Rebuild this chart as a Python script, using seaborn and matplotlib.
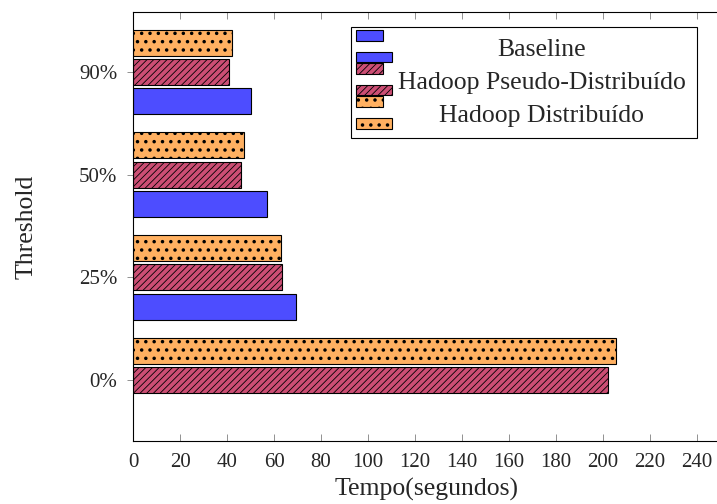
import numpy as np
import pandas as pd
import matplotlib
matplotlib.use("Agg")
import matplotlib.pyplot as plt
import matplotlib.transforms as mtransforms
from matplotlib.patches import Patch, Rectangle
from matplotlib.legend_handler import HandlerBase
import seaborn as sns

# values (seconds)
thresholds = ["0%", "25%", "50%", "90%"]
baseline = [np.nan, 69.5, 57, 50]
pseudo = [202, 63.5, 46, 41]
distribuido = [205.7, 63, 47, 42]

series_names = ["Baseline", "Hadoop Pseudo-Distribuído", "Hadoop Distribuído"]
colors = {"Baseline": "#4d4dff",
          "Hadoop Pseudo-Distribuído": "#cc4e74",
          "Hadoop Distribuído": "#ffb061"}
hatches = {"Baseline": "", "Hadoop Pseudo-Distribuído": "/////", "Hadoop Distribuído": ".."}
hatch_lw = {"Baseline": 0.6, "Hadoop Pseudo-Distribuído": 0.6, "Hadoop Distribuído": 1.3}

rows = []
for name, vals in zip(series_names, [baseline, pseudo, distribuido]):
    for t, v in zip(thresholds, vals):
        if not np.isnan(v):
            rows.append({"threshold": t, "tempo": v, "serie": name})
df = pd.DataFrame(rows)

sns.set_style("ticks")
plt.rcParams["font.family"] = ["Liberation Serif", "DejaVu Serif"]
plt.rcParams["hatch.linewidth"] = 0.6
plt.rcParams["axes.edgecolor"] = "black"

fig = plt.figure(figsize=(7.17, 5.04), dpi=100)
ax = fig.add_axes([0.1858, 0.125, 0.8188, 0.851])

# top of the chart is 90%, bars inside a group: Distribuído on top
order = thresholds[::-1]
hue_order = series_names[::-1]
sns.barplot(data=df, x="tempo", y="threshold", hue="serie", order=order,
            hue_order=hue_order, palette=colors, orient="h", width=0.856,
            gap=0.112, dodge=True, legend=False, edgecolor="black",
            linewidth=0.8, errorbar=None, saturation=1, ax=ax)


def style_patch(p, name):
    p.set_hatch(hatches[name])
    if hasattr(p, "set_hatch_linewidth"):
        p.set_hatch_linewidth(hatch_lw[name])


for name, cont in zip(hue_order, ax.containers):
    for bar in cont:
        style_patch(bar, name)

ax.set_xlim(0, 250)
ax.set_ylim(3.594, -0.584)
ax.set_xticks(range(0, 241, 20))

for s in ax.spines.values():
    s.set_linewidth(0.8)
    s.set_color("black")

ax.tick_params(axis="x", direction="in", length=5, width=0.6, color="#808080",
               top=True, bottom=True, labelsize=15, pad=8.6)
ax.tick_params(axis="y", direction="out", length=4.3, width=0.6, color="#808080",
               left=True, right=False, labelsize=15, pad=7)
ax.set_xlabel("Tempo(segundos)", fontsize=18.5, labelpad=4)
ax.set_ylabel("Threshold", fontsize=18.5, labelpad=30)


class TwoBarHandler(HandlerBase):
    # pgfplots-style legend image: a short bar above and a longer one below
    def create_artists(self, legend, orig_handle, xdescent, ydescent,
                       width, height, fontsize, trans):
        name = orig_handle.get_label()
        kw = dict(facecolor=orig_handle.get_facecolor(), edgecolor="black",
                  linewidth=0.8, transform=trans)
        small = Rectangle((-4.3, 10.6), 19.7, 7.9, **kw)
        big = Rectangle((-4.3, -4.75), 25.7, 7.6, **kw)
        for r in (small, big):
            style_patch(r, name)
        return [small, big]


handles = [Patch(facecolor=colors[n], edgecolor="black", label=n)
           for n in series_names]
leg = ax.legend(handles, series_names, loc="upper right",
                bbox_to_anchor=(0.9598, 0.9657), borderaxespad=0,
                fontsize=18.5, handlelength=1.2, handletextpad=0.2,
                borderpad=0.42, labelspacing=0.4, fancybox=False,
                framealpha=1, edgecolor="black",
                handler_map={Patch: TwoBarHandler()})
leg.get_frame().set_linewidth(0.8)

# center the legend texts like pgfplots does
fig.canvas.draw()
r = fig.canvas.get_renderer()
texts = leg.get_texts()
widths = [t.get_window_extent(r).width for t in texts]
wmax = max(widths)
for t, w in zip(texts, widths):
    t.set_transform(t.get_transform() +
                    mtransforms.Affine2D().translate((wmax - w) / 2, 0))

fig.savefig("out.png", dpi=100)
plt.close(fig)
